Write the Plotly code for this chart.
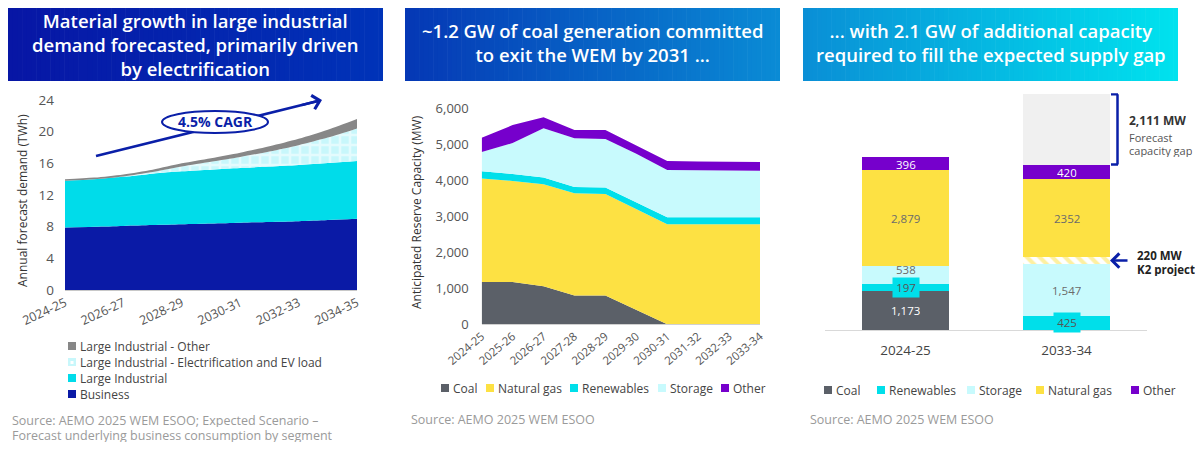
import plotly.graph_objects as go

W, H = 1203, 450
OFF = 8                      # browser body margin
FW, FH = W - 2 * OFF, H - 2 * OFF

# ---------------- Data ----------------
# Panel 1: forecast underlying business consumption (TWh)
years_demand = ["2024-25", "2025-26", "2026-27", "2027-28", "2028-29", "2029-30",
                "2030-31", "2031-32", "2032-33", "2033-34", "2034-35"]
business = [7.9, 8.0, 8.1, 8.2, 8.3, 8.4, 8.5, 8.6, 8.7, 8.85, 9.0]
large_industrial = [5.9, 6.0, 6.2, 6.5, 6.7, 6.8, 6.9, 7.0, 7.1, 7.2, 7.3]
electrification_ev = [0.0, 0.0, 0.05, 0.2, 0.6, 1.0, 1.4, 1.9, 2.5, 3.2, 4.1]
large_industrial_other = [0.2, 0.2, 0.25, 0.3, 0.4, 0.45, 0.55, 0.65, 0.8, 1.0, 1.2]
demand_tick_years = ["2024-25", "2026-27", "2028-29", "2030-31", "2032-33", "2034-35"]

# Panel 2: anticipated reserve capacity (MW)
years_capacity = ["2024-25", "2025-26", "2026-27", "2027-28", "2028-29", "2029-30",
                  "2030-31", "2031-32", "2032-33", "2033-34"]
coal = [1173, 1173, 1060, 800, 800, 400, 0, 0, 0, 0]
natural_gas = [2879, 2810, 2830, 2840, 2820, 2810, 2780, 2780, 2780, 2780]
renewables = [197, 190, 185, 175, 180, 185, 194, 194, 194, 194]
storage = [538, 860, 1370, 1350, 1345, 1340, 1310, 1300, 1295, 1290]
other = [396, 500, 305, 230, 250, 220, 250, 245, 245, 245]

# Panel 3: capacity comparison (MW)
bar_years = ["2024-25", "2033-34"]
bar_coal = [1173, 0]
bar_renewables = [197, 425]
bar_storage = [538, 1547]
bar_k2 = [0, 220]
bar_gas = [2879, 2352]
bar_other = [396, 420]
bar_gap = [0, 2111]
bar_gas_labels = ["2,879", "2352"]

# ---------------- Helpers ----------------
def X(px):
    return (px - OFF) / FW


def Y(py):
    return 1 - (py - OFF) / FH


def lerp_color(c1, c2, t):
    a = [int(c1[i:i + 2], 16) for i in (1, 3, 5)]
    b = [int(c2[i:i + 2], 16) for i in (1, 3, 5)]
    return "#%02x%02x%02x" % tuple(round(a[k] + (b[k] - a[k]) * t) for k in range(3))


FONT = "Open Sans"
shapes = []
annotations = []


def text(x, y, t, size, color, xanchor="center", **kw):
    d = dict(xref="paper", yref="paper", x=X(x), y=Y(y), text=t, showarrow=False,
             xanchor=xanchor, yanchor="middle", font=dict(family=FONT, size=size, color=color))
    d.update(kw)
    annotations.append(d)


def header(x0, x1, y0, y1, cl, cr, lines, yc):
    x0c, y0c = max(x0, OFF), max(y0, OFF)
    n = 80
    w = (x1 - x0c) / n
    for i in range(n):
        shapes.append(dict(type="rect", xref="paper", yref="paper",
                           x0=X(x0c + i * w), x1=X(min(x0c + (i + 1) * w + 0.6, x1)),
                           y0=Y(y1), y1=Y(y0c), line=dict(width=0),
                           fillcolor=lerp_color(cl, cr, i / (n - 1)), layer="below"))
    annotations.append(dict(xref="paper", yref="paper", x=X((x0 + x1) / 2), y=Y(yc),
                            text="<br>".join(lines), showarrow=False, xanchor="center",
                            yanchor="middle", align="center",
                            font=dict(family=FONT, size=18.5, color="white", weight=600)))


fig = go.Figure()

# ---------------- Panel 1 ----------------
p1 = [
    ("Business", business, "#0a1aa6", None),
    ("Large Industrial", large_industrial, "#00dcea", None),
    ("Large Industrial - Electrification and EV load", electrification_ev, "#c8f7fb",
     dict(shape="+", fgcolor="#ffffff", bgcolor="#c8f7fb", size=10, solidity=0.45)),
    ("Large Industrial - Other", large_industrial_other, "#878787", None),
]
for name, vals, col, pat in p1:
    kw = dict(fillpattern=pat) if pat else {}
    fig.add_trace(go.Scatter(x=years_demand, y=vals, name=name, stackgroup="demand",
                             mode="lines", line=dict(width=0, shape="spline", smoothing=0.8),
                             fillcolor=col, xaxis="x", yaxis="y", showlegend=False,
                             hoverinfo="skip", **kw))

# ---------------- Panel 2 ----------------
p2 = [
    ("Coal", coal, "#5b6068"),
    ("Natural gas", natural_gas, "#fde143"),
    ("Renewables", renewables, "#00dfea"),
    ("Storage", storage, "#c8fafd"),
    ("Other", other, "#7600cc"),
]
for name, vals, col in p2:
    fig.add_trace(go.Scatter(x=years_capacity, y=vals, name=name, stackgroup="cap",
                             mode="lines", line=dict(width=0), fillcolor=col,
                             xaxis="x2", yaxis="y2", showlegend=False, hoverinfo="skip"))

# ---------------- Panel 3 ----------------
p3 = [
    ("Coal", bar_coal, "#5b6068", None),
    ("Renewables", bar_renewables, "#00dfea", None),
    ("Storage", bar_storage, "#c8fafd", None),
    ("K2 project", bar_k2, "#ffffff",
     dict(shape="\\", fgcolor="#fde143", bgcolor="#ffffff", size=9, solidity=0.45)),
    ("Natural gas", bar_gas, "#fde143", None),
    ("Other", bar_other, "#7600cc", None),
    ("Forecast capacity gap", bar_gap, "#f0f0f0", None),
]
for name, vals, col, pat in p3:
    marker = dict(color=col, line=dict(width=0))
    if pat:
        marker["pattern"] = pat
    fig.add_trace(go.Bar(x=bar_years, y=vals, name=name, marker=marker,
                         xaxis="x3", yaxis="y3", showlegend=False, hoverinfo="skip"))

# bar value labels
label_specs = [
    (bar_coal, None, "#ffffff", None),
    (bar_renewables, None, "#555555", "#00dfea"),
    (bar_storage, None, "#6b6b6b", None),
    (bar_k2, "skip", None, None),
    (bar_gas, bar_gas_labels, "#6b6b6b", None),
    (bar_other, None, "#ffffff", None),
]
bottoms = [0, 0]
for vals, labels, fcol, bg in label_specs:
    for i, v in enumerate(vals):
        if v > 0 and labels != "skip":
            txt = labels[i] if labels else f"{v:,}"
            a = dict(xref="x3", yref="y3", x=bar_years[i], y=bottoms[i] + v / 2, text=txt,
                     showarrow=False, xanchor="center", yanchor="middle",
                     font=dict(family=FONT, size=11.5, color=fcol))
            if bg:
                a.update(bgcolor=bg, borderpad=1, width=24, height=17)
            else:
                a.update(height=14)
            if v < 700 and fcol == "#6b6b6b":
                a.update(yshift=6)
            annotations.append(a)
        bottoms[i] += v

# ---------------- Headers ----------------
header(7, 383, 5, 81, "#0716a5", "#0033b8",
       ["Material growth in large industrial", "demand forecasted, primarily driven",
        "by electrification"], 44.5)
header(405, 780, 5, 81, "#0538b5", "#0a8bd5",
       ["~1.2 GW of coal generation committed", "to exit the WEM by 2031 ..."], 42.5)
header(803, 1178, 5, 81, "#0a8fd6", "#00e2ee",
       ["... with 2.1 GW of additional capacity", "required to fill the expected supply gap"], 42.5)

# ---------------- Panel 1 decorations ----------------
DB = "#0a1fa8"
shapes.append(dict(type="line", xref="paper", yref="paper", x0=X(96), y0=Y(156),
                   x1=X(318), y1=Y(101), line=dict(color=DB, width=2.5)))
shapes.append(dict(type="circle", xref="paper", yref="paper", x0=X(162), x1=X(268),
                   y0=Y(133), y1=Y(111), fillcolor="white", line=dict(color=DB, width=2)))
text(215, 122, "<b>4.5% CAGR</b>", 14, DB)
annotations.append(dict(xref="paper", yref="paper", x=X(322), y=Y(100), ax=-22, ay=5.5,
                        text="", showarrow=True, arrowhead=4, arrowsize=1.1, arrowwidth=2.5,
                        arrowcolor=DB))

text(22, 201, "Annual forecast demand (TWh)", 12, "#333333", textangle=-90)
text(417, 212, "Anticipated Reserve Capacity (MW)", 12, "#333333", textangle=-90)

# ---------------- Legends (manual) ----------------
def legend_item(x, y, color, name):
    shapes.append(dict(type="rect", xref="paper", yref="paper", x0=X(x), x1=X(x + 8),
                       y0=Y(y + 4), y1=Y(y - 4), fillcolor=color, line=dict(width=0)))
    text(x + 10, y, name, 12, "#444444", xanchor="left", height=15)


p1_legend = [p1[3], p1[2], p1[1], p1[0]]
for (name, _, col, pat), yy in zip(p1_legend, [346, 362, 378, 394]):
    legend_item(68, yy, col, name)
shapes.append(dict(type="rect", xref="paper", yref="paper", x0=X(70.5), x1=X(73.5),
                   y0=Y(364), y1=Y(361), fillcolor="white", line=dict(width=0)))

for (name, _, col), xx in zip(p2, [441, 486, 570, 658, 721]):
    legend_item(xx, 388, col, name)

p3_legend = [p3[0], p3[1], p3[2], p3[4], p3[5]]
for (name, _, col, _), xx in zip(p3_legend, [824, 877, 967, 1036, 1131]):
    legend_item(xx, 390, col, name)

# ---------------- Sources ----------------
for txt, x, y in [("Source: AEMO 2025 WEM ESOO; Expected Scenario –", 10, 420),
                  ("Forecast underlying business consumption by segment", 10, 435),
                  ("Source: AEMO 2025 WEM ESOO", 409, 419),
                  ("Source: AEMO 2025 WEM ESOO", 808, 419)]:
    text(x, y, txt, 12.5, "#9a9a9a", xanchor="left", height=14)

# ---------------- Panel 3 annotations ----------------
gap_bottom = bar_renewables[1] + bar_storage[1] + bar_k2[1] + bar_gas[1] + bar_other[1]
gap_top = gap_bottom + bar_gap[1]
for yy in (gap_top, gap_bottom):
    shapes.append(dict(type="line", xref="paper", yref="y3", x0=X(1111), x1=X(1118),
                       y0=yy, y1=yy, line=dict(color=DB, width=2.5)))
shapes.append(dict(type="line", xref="paper", yref="y3", x0=X(1117.5), x1=X(1117.5),
                   y0=gap_bottom, y1=gap_top, line=dict(color=DB, width=2.5)))

text(1127, 120, "<b>2,111 MW</b>", 12, "#333333", xanchor="left", height=15)
text(1127, 137, "Forecast", 11, "#555555", xanchor="left", height=13)
text(1127, 150, "capacity gap", 11, "#555555", xanchor="left", height=13)

k2_mid = bar_renewables[1] + bar_storage[1] + bar_k2[1] / 2
annotations.append(dict(xref="paper", yref="y3", x=X(1110), y=k2_mid, ax=19, ay=0, text="",
                        showarrow=True, arrowhead=4, arrowsize=1.1, arrowwidth=2.5, arrowcolor=DB))
text(1135, 255, "<b>220 MW</b>", 11.5, "#222222", xanchor="left", height=14)
text(1135, 269, "<b>K2 project</b>", 11.5, "#222222", xanchor="left", height=14)

# ---------------- Layout ----------------
tick_grey = "#555555"
fig.update_layout(
    width=FW, height=FH, autosize=False,
    margin=dict(l=0, r=0, t=0, b=0, pad=0, autoexpand=False),
    paper_bgcolor="white", plot_bgcolor="rgba(0,0,0,0)",
    font=dict(family=FONT, color="#444444"),
    barmode="stack", bargap=0.46,
    showlegend=False, hovermode=False,
    shapes=shapes, annotations=annotations,
    xaxis=dict(domain=[X(65), X(357)], anchor="y", type="category", range=[0, 10],
               tickmode="array", tickvals=demand_tick_years, ticktext=demand_tick_years,
               tickangle=-25, tickfont=dict(size=12.5, color=tick_grey), showgrid=False,
               showline=True, linecolor="#c8c8c8", linewidth=1, zeroline=False, ticks="",
               automargin=False),
    yaxis=dict(domain=[Y(290), Y(100)], anchor="x", range=[0, 24], dtick=4, showgrid=False,
               zeroline=False, showline=False, tickfont=dict(size=13.5, color=tick_grey),
               ticklabelstandoff=10, ticks="", automargin=False),
    xaxis2=dict(domain=[X(481.7), X(760)], anchor="y2", type="category", range=[0, 9],
                tickangle=-40, tickfont=dict(size=11.5, color=tick_grey), showgrid=False,
                showline=True, linecolor="#d0d0d0", zeroline=False, ticks="", automargin=False),
    yaxis2=dict(domain=[Y(324.3), Y(108.3)], anchor="x2", range=[0, 6000], dtick=1000,
                tickformat=",", showgrid=False, zeroline=False, showline=False,
                tickfont=dict(size=13, color=tick_grey), ticklabelstandoff=12, ticks="",
                automargin=False),
    xaxis3=dict(domain=[X(825), X(1147)], anchor="y3", type="category", range=[-0.5, 1.5],
                tickfont=dict(size=13.5, color="#444444"), showgrid=False, showline=True,
                linecolor="#d9d9d9", zeroline=False, ticks="", ticklabelstandoff=8,
                automargin=False),
    yaxis3=dict(domain=[Y(330), Y(330 - 7100 * 200 / 6000)], anchor="x3", range=[0, 7100],
                visible=False, showgrid=False, zeroline=False, automargin=False),
)

fig.write_html("out.html")
